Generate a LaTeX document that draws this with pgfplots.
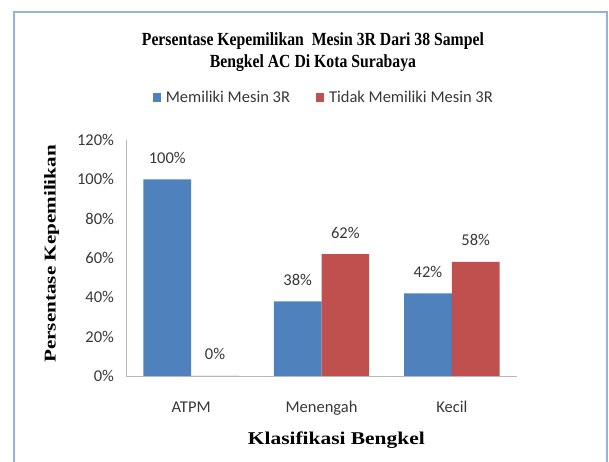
\documentclass[border=0pt]{standalone}
\usepackage{fontspec}
\setmainfont{Carlito}
\newfontfamily\titlefont{Liberation Serif}[FakeStretch=0.85]
\newfontfamily\ylabfont{Liberation Serif}[FakeStretch=1.28]
\newfontfamily\xlabfont{Liberation Serif}[FakeStretch=1.19]
\usepackage{pgfplots}
\pgfplotsset{compat=1.18}
\definecolor{cblue}{HTML}{4F81BD}
\definecolor{cred}{HTML}{C0504D}
\definecolor{txt}{HTML}{383838}
\definecolor{framec}{HTML}{95B3D7}
\begin{document}
\begin{tikzpicture}[x=1bp,y=1bp]
\path[use as bounding box] (0,0) rectangle (609,462);
\draw[framec, line width=1.2bp] (14,0) -- (14,450) -- (607,450) -- (607,0);
\begin{axis}[
  at={(126bp,86bp)}, anchor=south west,
  scale only axis, width=391bp, height=236bp,
  ybar=0pt, bar width=47.7bp,
  xmin=-0.5, xmax=2.5, ymin=0, ymax=120,
  axis x line=bottom, axis y line=left,
  axis line style={draw=black!28, -, line width=0.8bp},
  major tick length=0pt,
  xtick={0,1,2}, xticklabels={ATPM,Menengah,Kecil},
  ytick={0,20,...,120}, yticklabels={0\%,20\%,40\%,60\%,80\%,100\%,120\%},
  tick label style={font=\fontsize{16.5bp}{19bp}\selectfont, text=txt},
  yticklabel style={xshift=-8.5bp},
  xticklabel style={anchor=base, yshift=-36.5bp},
  nodes near coords={\pgfmathprintnumber[assume math mode=true]{\pgfplotspointmeta}\%},
  every node near coord/.append style={font=\fontsize{16.5bp}{19bp}\selectfont, text=txt, anchor=base, yshift=16bp},
  title={Persentase Kepemilikan\ \ Mesin 3R Dari 38 Sampel\\Bengkel AC Di Kota Surabaya},
  title style={font=\titlefont\bfseries\fontsize{18.5bp}{22bp}\selectfont, align=center, at={(0.478,1.432)}, anchor=north, inner sep=0pt, text=black},
  xlabel={Klasifikasi Bengkel},
  xlabel style={font=\xlabfont\bfseries\fontsize{18bp}{21bp}\selectfont, at={(0.538,-0.292)}, anchor=base, text=black},
  ylabel={Persentase Kepemilikan},
  ylabel style={font=\ylabfont\bfseries\fontsize{16.5bp}{19bp}\selectfont, at={(-0.190,0.517)}, anchor=center, text=black},
  legend style={at={(0.506,1.182)}, anchor=center, draw=none, fill=none, legend columns=2,
    font=\fontsize{16.5bp}{19bp}\selectfont, text=txt,
    /tikz/every even column/.append style={column sep=24bp}},
]
\addplot[fill=cblue, draw=none, legend image code/.code={\fill[cblue] (0bp,-4.5bp) rectangle (8bp,4.5bp); \path (11bp,0bp);}] coordinates {(0,100) (1,38) (2,42)};
\addplot[fill=cred, draw=none, legend image code/.code={\fill[cred] (0bp,-4.5bp) rectangle (8bp,4.5bp); \path (11bp,0bp);}] coordinates {(0,0) (1,62) (2,58)};
\legend{Memiliki Mesin 3R, Tidak Memiliki Mesin 3R}
\end{axis}
\end{tikzpicture}
\end{document}
